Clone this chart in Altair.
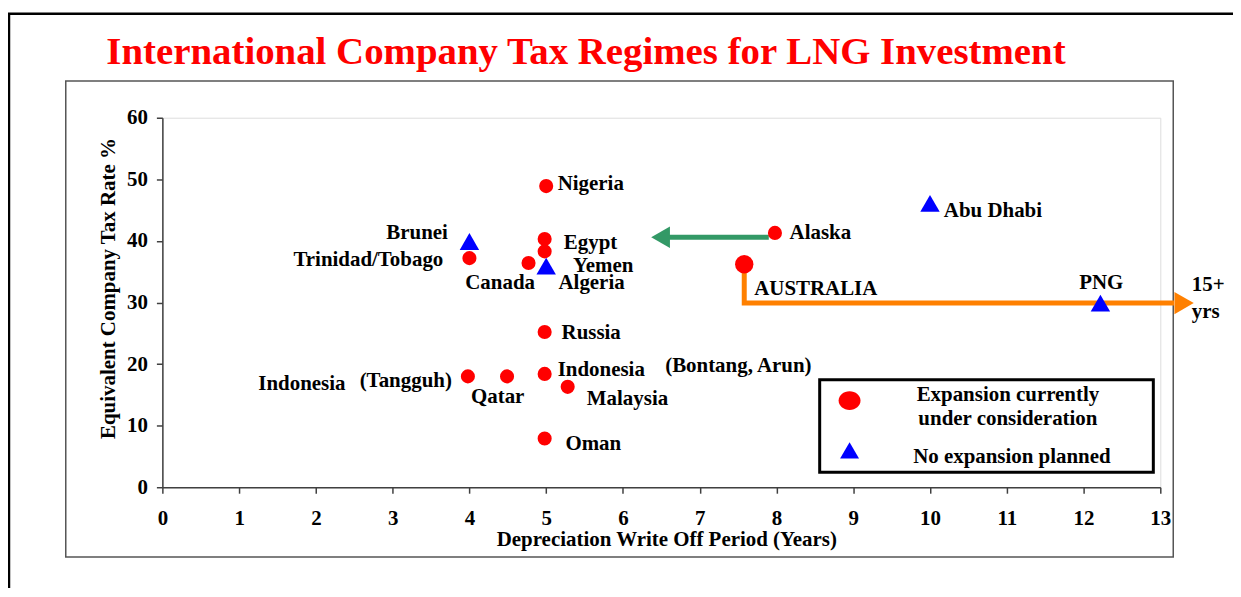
import altair as alt
import pandas as pd

# ---------------- data ----------------
countries = ["Nigeria", "Egypt", "Yemen", "Canada", "Trinidad/Tobago", "Russia",
             "Indonesia (Tangguh)", "Qatar", "Indonesia (Bontang, Arun)", "Malaysia",
             "Oman", "Alaska", "Australia", "Brunei", "Algeria", "Abu Dhabi", "PNG"]
depreciation_years = [5.0, 4.98, 4.98, 4.77, 4.0, 4.98, 3.98, 4.49, 4.98, 5.28,
                      4.98, 7.98, 7.58, 4.0, 5.0, 10.0, 12.22]
tax_rate = [48.9, 40.3, 38.3, 36.4, 37.2, 25.2, 18.0, 18.0, 18.4, 16.3,
            7.9, 41.3, 36.2, 39.9, 35.9, 46.1, 29.9]
status = ["Expansion currently under consideration"] * 13 + ["No expansion planned"] * 4

# point labels (data units)
label_text = ["Nigeria", "Brunei", "Egypt", "Trinidad/Tobago", "Yemen", "Canada", "Algeria",
              "Russia", "Indonesia", "(Bontang, Arun)", "Indonesia", "(Tangguh)", "Qatar",
              "Malaysia", "Oman", "Alaska", "AUSTRALIA", "Abu Dhabi", "PNG", "15+", "yrs"]
label_x = [5.15, 3.72, 5.23, 3.66, 5.35, 4.40, 5.16, 5.20, 5.15, 6.55, 1.25, 2.57, 4.02,
           5.53, 5.25, 8.17, 7.71, 10.18, 12.23, 13.41, 13.41]
label_y = [49.2, 41.2, 39.6, 36.9, 35.9, 33.2, 33.2, 25.1, 19.1, 19.7, 16.7, 17.3, 14.7,
           14.4, 6.95, 41.2, 32.2, 44.8, 33.2, 32.8, 28.5]
label_align = ["left", "right", "left", "right", "left", "center", "left", "left", "left",
               "left", "left", "left", "left", "left", "left", "left", "left", "left",
               "center", "left", "left"]

# arrows (data units)
green_arrow_x = [7.90, 6.60]
green_arrow_y = [40.6, 40.6]
green_head_x = [6.49]
green_head_y = [40.6]
orange_path_x = [7.58, 7.58, 13.18]
orange_path_y = [36.2, 29.9, 29.9]
orange_head_x = [13.31]
orange_head_y = [29.9]

legend_labels = ["Expansion currently", "under consideration", "No expansion planned"]

x_ticks = list(range(0, 14))
y_ticks = list(range(0, 61, 10))

# ---------------- chart ----------------
FONT = "Liberation Serif"
FS = 21
W, H = 1002, 371

pts = pd.DataFrame({"country": countries, "x": depreciation_years, "y": tax_rate, "status": status})
labels = pd.DataFrame({"text": label_text, "x": label_x, "y": label_y, "align": label_align})

x_axis = alt.Axis(values=x_ticks, title="Depreciation Write Off Period (Years)", grid=False,
                  format="d", domainColor="#404040", domainWidth=1.5, tickColor="#404040",
                  tickWidth=1.5, tickSize=6, labelFont=FONT, labelFontSize=FS,
                  labelFontWeight="bold", labelColor="black", labelPadding=14,
                  labelFlush=False, labelOverlap=False,
                  titleFont=FONT, titleFontSize=FS, titleFontWeight="bold", titleColor="black",
                  titleX=506, titleY=53, titleBaseline="middle", titleAlign="center")
y_axis = alt.Axis(values=y_ticks, title="Equivalent Company Tax Rate %", grid=False,
                  format="d", domainColor="#404040", domainWidth=1.5, tickColor="#404040",
                  tickWidth=1.5, tickSize=6, labelFont=FONT, labelFontSize=FS,
                  labelFontWeight="bold", labelColor="black", labelPadding=9,
                  labelFlush=False, labelOverlap=False,
                  titleFont=FONT, titleFontSize=FS, titleFontWeight="bold", titleColor="black",
                  titleX=-54, titleY=171, titleBaseline="middle", titleAlign="center",
                  titleAngle=270)

xs = alt.Scale(domain=[0, 13], nice=False, zero=False)
ys = alt.Scale(domain=[0, 60], nice=False)


def X(field="x"):
    return alt.X(f"{field}:Q", scale=xs, axis=x_axis)


def Y(field="y"):
    return alt.Y(f"{field}:Q", scale=ys, axis=y_axis)


one = pd.DataFrame({"k": [0]})

outer_frame = alt.Chart(one).mark_rect(fillOpacity=0, stroke="black", strokeWidth=2.5).encode(
    x=alt.value(-154), x2=alt.value(1200), y=alt.value(-104.5), y2=alt.value(600))
inner_frame = alt.Chart(one).mark_rect(fillOpacity=0, stroke="#555555", strokeWidth=1.5).encode(
    x=alt.value(-97), x2=alt.value(1015), y=alt.value(-37), y2=alt.value(441))

green_line = alt.Chart(pd.DataFrame({"x": green_arrow_x, "y": green_arrow_y})).mark_line(
    color="#339966", strokeWidth=5).encode(x=X(), y=Y())
green_head = alt.Chart(pd.DataFrame({"x": green_head_x, "y": green_head_y})).mark_point(
    shape="triangle-left", filled=True, color="#339966", opacity=1, size=470).encode(x=X(), y=Y())

orange_line = alt.Chart(pd.DataFrame({"x": orange_path_x, "y": orange_path_y,
                                      "o": list(range(len(orange_path_x)))})).mark_line(
    color="#FF8000", strokeWidth=5, strokeJoin="miter").encode(x=X(), y=Y(), order="o:O")
orange_head = alt.Chart(pd.DataFrame({"x": orange_head_x, "y": orange_head_y})).mark_point(
    shape="triangle-right", filled=True, color="#FF8000", opacity=1, size=500).encode(x=X(), y=Y())

base = alt.Chart(pts)
circles = base.transform_filter(
    (alt.datum.status == "Expansion currently under consideration") & (alt.datum.country != "Australia")
).mark_circle(color="#FF0000", opacity=1, size=200).encode(x=X(), y=Y(), tooltip=["country", "x", "y"])
australia = base.transform_filter(alt.datum.country == "Australia").mark_circle(
    color="#FF0000", opacity=1, size=340).encode(x=X(), y=Y(), tooltip=["country", "x", "y"])
triangles = base.transform_filter(alt.datum.status == "No expansion planned").mark_point(
    shape="triangle-up", filled=True, color="#0000FF", opacity=1, size=380).encode(
    x=X(), y=Y(), tooltip=["country", "x", "y"])

text_layers = []
for al in ["left", "right", "center"]:
    text_layers.append(
        alt.Chart(labels).transform_filter(alt.datum.align == al).mark_text(
            font=FONT, fontSize=FS, fontWeight="bold", color="black", align=al, baseline="middle"
        ).encode(x=X(), y=Y(), text="text:N")
    )

# legend box (manual, as in the original)
legend_box = alt.Chart(one).mark_rect(fill="white", stroke="black", strokeWidth=3).encode(
    x=alt.value(660), x2=alt.value(995), y=alt.value(263), y2=alt.value(356))
ellipse = "M -1 0 A 1 0.86 0 1 0 1 0 A 1 0.86 0 1 0 -1 0 Z"
legend_circle = alt.Chart(one).mark_point(shape=ellipse, filled=True, color="#FF0000", opacity=1,
                                          size=484).encode(x=alt.value(690), y=alt.value(284))
legend_tri = alt.Chart(one).mark_point(shape="triangle-up", filled=True, color="#0000FF", opacity=1,
                                       size=361).encode(x=alt.value(690), y=alt.value(334))
leg_df = pd.DataFrame({"t": legend_labels})
legend_texts = []
for lab, lx, ly in zip(legend_labels, [849, 849, 853], [278, 303, 341]):
    legend_texts.append(
        alt.Chart(leg_df).transform_filter(alt.datum.t == lab).mark_text(
            font=FONT, fontSize=FS, fontWeight="bold", color="black", align="center", baseline="middle"
        ).encode(x=alt.value(lx), y=alt.value(ly), text="t:N")
    )

chart = alt.layer(
    outer_frame, inner_frame, green_line, green_head, orange_line, orange_head,
    circles, australia, triangles, *text_layers,
    legend_box, legend_circle, legend_tri, *legend_texts
).properties(
    width=W, height=H,
    title=alt.TitleParams(text="International Company Tax Regimes for LNG Investment",
                          font=FONT, fontSize=39, fontWeight="bold", color="#FF0000",
                          anchor="start", dx=99, offset=-91, baseline="alphabetic"),
    autosize=alt.AutoSizeParams(type="none"),
    padding={"left": 155, "top": 109, "right": 73, "bottom": 100},
).configure_view(stroke=None).configure(background="white")

chart.save("out.html", embed_options={"renderer": "svg", "actions": False})
